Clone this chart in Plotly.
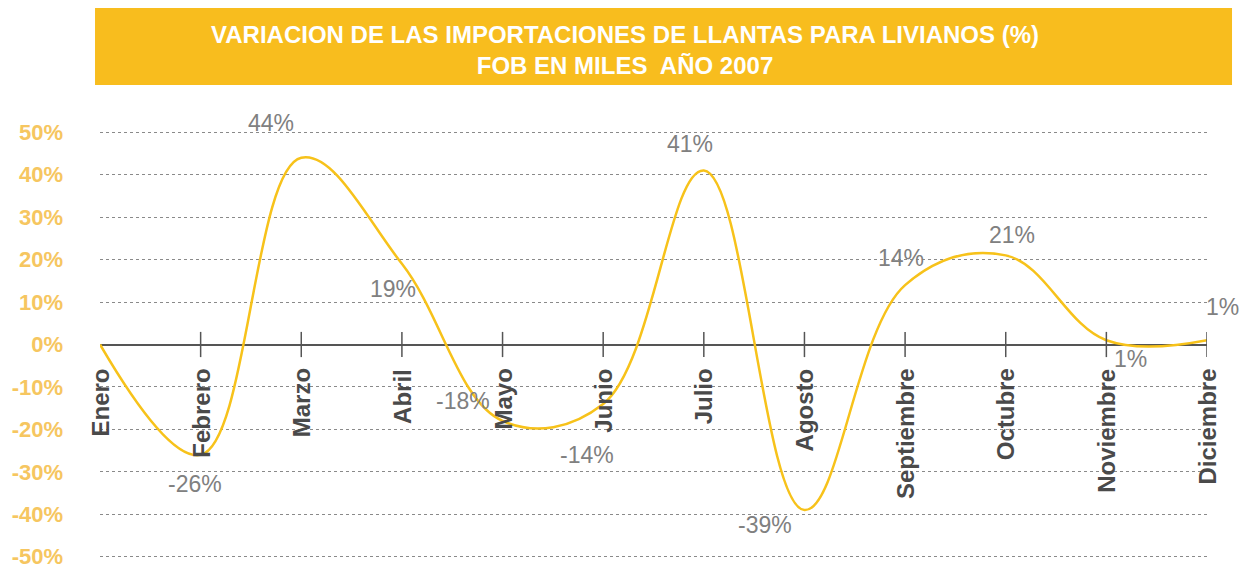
import plotly.graph_objects as go

# datos del grafico
months = ["Enero", "Febrero", "Marzo", "Abril", "Mayo", "Junio", "Julio",
          "Agosto", "Septiembre", "Octubre", "Noviembre", "Diciembre"]
variation = [0, -26, 44, 19, -18, -14, 41, -39, 14, 21, 1, 1]
value_labels = ["", "-26%", "44%", "19%", "-18%", "-14%", "41%",
                "-39%", "14%", "21%", "1%", "1%"]
y_ticks = [50, 40, 30, 20, 10, 0, -10, -20, -30, -40, -50]

# desplazamiento de etiquetas (px)
label_dx = [0, -6, -30, -9, -40, -16, -14, -39, -4, 6, 24, 15]
label_dy = [0, -29, 35, -25, 20, -51, 26, -15, 27, 20, -19, 33]

x = list(range(len(months)))
FONT = "Liberation Sans, Arial"

fig = go.Figure()
fig.add_trace(go.Scatter(x=x, y=variation, mode="lines",
                         line=dict(color="#F7C21A", width=2.5, shape="spline", smoothing=1.1),
                         hoverinfo="skip", showlegend=False))
# marcas del eje en el cero
fig.add_trace(go.Scatter(x=x[1:], y=[0] * (len(x) - 1), mode="markers",
                         marker=dict(symbol="line-ns", size=18, line=dict(color="#555", width=1.5)),
                         hoverinfo="skip", showlegend=False))

for i, m in enumerate(months):
    fig.add_annotation(x=i, y=0, text="<b>%s</b>" % m, textangle=-90, showarrow=False,
                       xanchor="center", yanchor="top", yshift=-22,
                       font=dict(family=FONT, size=24, color="#4a4a4a"))
    if value_labels[i]:
        fig.add_annotation(x=i, y=variation[i], text=value_labels[i], showarrow=False,
                           xshift=label_dx[i], yshift=label_dy[i],
                           font=dict(family=FONT, size=23, color="#808080"))

# caja del titulo
fig.add_shape(type="rect", xref="paper", yref="paper", x0=-0.0045, x1=1.0226, y0=1.108, y1=1.288,
              fillcolor="#F8BD1E", line=dict(width=0), layer="below")
fig.add_annotation(xref="paper", yref="paper", x=0.474, y=1.19, showarrow=False,
                   text="<b>VARIACION DE LAS IMPORTACIONES DE LLANTAS PARA LIVIANOS (%)<br>FOB EN MILES  AÑO 2007</b>",
                   font=dict(family=FONT, size=24, color="white"),
                   align="center", yanchor="middle")

fig.update_layout(
    width=1232, height=563,
    margin=dict(l=92, r=33, t=123, b=13),
    paper_bgcolor="white", plot_bgcolor="white",
)
fig.update_xaxes(range=[0, 11], showgrid=False, showticklabels=False, zeroline=False,
                 showline=False, automargin=False)
fig.update_yaxes(range=[-50.3, 50.3], tickvals=y_ticks,
                 ticktext=["<b>%d%%</b>" % v for v in y_ticks],
                 showgrid=True, gridcolor="#8a8a8a", griddash="dot", gridwidth=1,
                 zeroline=True, zerolinecolor="#555", zerolinewidth=2,
                 ticklabelstandoff=36, automargin=False, ticklabeloverflow="allow",
                 tickfont=dict(family=FONT, size=22, color="#F6C660"))

fig.write_html("out.html")
